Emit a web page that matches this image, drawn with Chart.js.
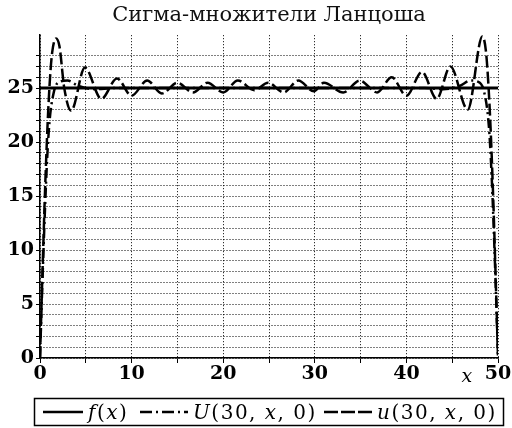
<!DOCTYPE html>
<html>
<head>
<meta charset="utf-8">
<script src="https://cdn.jsdelivr.net/npm/chart.js@4.4.1/dist/chart.umd.min.js"></script>
<style>
  html, body { margin: 0; padding: 0; background: #fff; }
</style>
</head>
<body>
<canvas id="chart" width="512" height="428"></canvas>
<script>
// f(x) = 25 on [0, 50]
const fX = [0, 50];
const fY = [25, 25];

// u(30, x, 0): partial Fourier sum, strong overshoot at both ends
const uX = [0, 0.27, 0.53, 0.8, 1.06, 1.33, 1.75, 2.12, 2.65, 3.4, 4.9, 6.7, 8.4, 10.0,
  11.7, 13.3, 15.0, 16.7, 18.3, 20.0, 21.6, 23.4, 24.9, 26.6, 28.2, 29.9, 31.0, 33.1,
  34.9, 36.8, 38.4, 40.0, 41.7, 43.3, 44.8, 46.7, 48.3, 48.67, 48.94, 49.2, 49.47, 49.73, 50];
const uY = [0, 7.9, 15.0, 21.1, 25.5, 28.3, 29.6, 28.9, 25.0, 22.9, 26.9, 24.0, 25.9, 24.3,
  25.7, 24.5, 25.5, 24.6, 25.5, 24.6, 25.7, 24.8, 25.5, 24.6, 25.7, 24.7, 25.5, 24.6,
  25.7, 24.6, 26.0, 24.3, 26.5, 24.0, 27.0, 23.0, 29.8, 28.5, 25.5, 21.1, 15.0, 7.9, 0];

// U(30, x, 0): the same sum with Lanczos sigma factors
const sX = [0, 0.3, 0.7, 1.0, 1.5, 2.2, 3.0, 4.2, 6.0, 8.0, 42.0, 44.0, 45.8, 47.0, 47.8,
  48.5, 49.0, 49.3, 49.7, 50];
const sY = [0, 8.0, 17.0, 21.5, 24.6, 25.6, 25.7, 25.2, 24.9, 25.0, 25.0, 24.9, 25.2, 25.7,
  25.6, 24.6, 21.5, 17.0, 8.0, 0];

const xTicks = [0, 10, 20, 30, 40, 50];
const yTicks = [0, 5, 10, 15, 20, 25];

const serif = "'DejaVu Serif', 'Liberation Serif', serif";

const pts = (xs, ys) => xs.map((x, i) => ({x, y: ys[i]}));

// legend entries: line sample from x0 to x1, then the label at tx
const legendItems = [
  {dash: [], x0: 43, x1: 83, tx: 88, parts: [['f', 1], ['(', 0], ['x', 1], [')', 0]]},
  {dash: [12, 4, 2, 4], x0: 140, x1: 188, tx: 193, parts: [['U', 1], ['(30, ', 0], ['x', 1], [', 0)', 0]]},
  {dash: [14, 3], x0: 324, x1: 372, tx: 377, parts: [['u', 1], ['(30, ', 0], ['x', 1], [', 0)', 0]]}
];

// boxed legend under the plot plus the "x" axis name
const extras = {
  id: 'extras',
  afterDraw(chart) {
    const c = chart.ctx;
    const xs = chart.scales.x;
    c.save();
    c.fillStyle = '#000';
    c.textBaseline = 'alphabetic';
    c.font = 'italic 19px ' + serif;
    c.textAlign = 'center';
    c.fillText('x', xs.getPixelForValue(46.6), 382);

    c.strokeStyle = '#000';
    c.lineWidth = 1.5;
    c.strokeRect(34.5, 398.5, 469, 27);

    const y = 412;
    c.textAlign = 'left';
    c.letterSpacing = '1.5px';
    legendItems.forEach(item => {
      c.lineWidth = 2.5;
      c.setLineDash(item.dash);
      c.beginPath();
      c.moveTo(item.x0, y);
      c.lineTo(item.x1, y);
      c.stroke();
      c.setLineDash([]);
      let x = item.tx;
      item.parts.forEach(([t, it]) => {
        c.font = (it ? 'italic ' : '') + '20px ' + serif;
        c.fillText(t, x, y + 7);
        x += c.measureText(t).width;
      });
    });
    c.restore();
  }
};

new Chart(document.getElementById('chart'), {
  type: 'line',
  data: {
    datasets: [
      {label: 'f(x)', data: pts(fX, fY), borderColor: '#000', borderWidth: 3,
        pointRadius: 0, fill: false},
      {label: 'U(30, x, 0)', data: pts(sX, sY), borderColor: '#000', borderWidth: 2.5,
        borderDash: [10, 4, 2, 4], pointRadius: 0, fill: false, cubicInterpolationMode: 'monotone'},
      {label: 'u(30, x, 0)', data: pts(uX, uY), borderColor: '#000', borderWidth: 2.5,
        borderDash: [12, 4], pointRadius: 0, fill: false, cubicInterpolationMode: 'monotone'}
    ]
  },
  options: {
    responsive: false,
    animation: false,
    layout: {padding: {left: 0, right: 14, top: 0, bottom: 40}},
    plugins: {
      legend: {display: false},
      tooltip: {enabled: false},
      title: {
        display: true,
        fullSize: false,
        text: 'Сигма-множители Ланцоша',
        color: '#111',
        font: {family: serif, size: 21, weight: 'normal', lineHeight: 1.2},
        padding: {top: 3, bottom: 7}
      }
    },
    scales: {
      x: {
        type: 'linear', min: 0, max: 50,
        afterFit: s => { s.height = 30; },
        ticks: {
          stepSize: 5, autoSkip: false, maxRotation: 0, padding: 0, color: '#000',
          font: {family: serif, size: 19, weight: 'bold'},
          callback: v => xTicks.includes(v) ? String(v) : ''
        },
        grid: {color: '#000', lineWidth: 1, tickLength: 5, tickColor: '#000'},
        border: {display: true, color: '#000', width: 1.5, dash: [1, 2]}
      },
      y: {
        type: 'linear', min: 0, max: 29.9,
        afterFit: s => { s.width = 40; },
        afterBuildTicks: s => { s.ticks = s.ticks.filter(t => Number.isInteger(t.value)); },
        ticks: {
          stepSize: 1, autoSkip: false, padding: 2, color: '#000',
          font: {family: serif, size: 19, weight: 'bold'},
          callback: v => yTicks.includes(v) ? String(v) : ''
        },
        grid: {color: '#000', lineWidth: 1, tickLength: 4, tickColor: '#000'},
        border: {display: true, color: '#000', width: 1.5, dash: [1, 2]}
      }
    }
  },
  plugins: [extras]
});
</script>
</body>
</html>
